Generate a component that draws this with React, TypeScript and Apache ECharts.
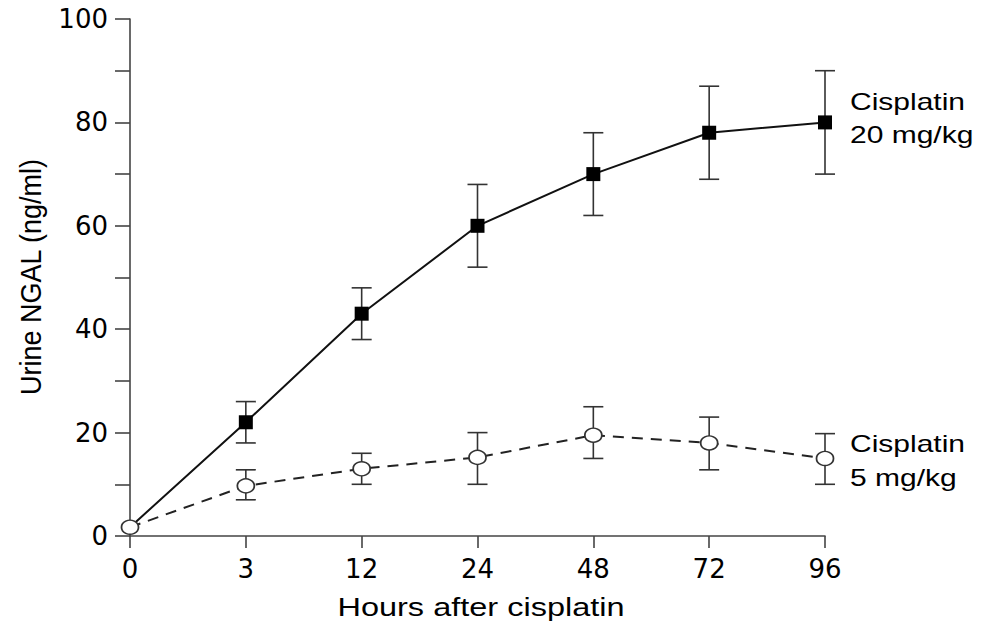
import React, { useEffect, useRef } from "react";
import * as echarts from "echarts";

const hours = ["0", "3", "12", "24", "48", "72", "96"];
const dose20 = [1.7, 22, 43, 60, 70, 78, 80];
const dose20Low = [null, 18, 38, 52, 62, 69, 70];
const dose20High = [null, 26, 48, 68, 78, 87, 90];
const dose5 = [1.7, 9.7, 13, 15.2, 19.5, 18, 15];
const dose5Low = [null, 7, 10, 10, 15, 12.8, 10];
const dose5High = [null, 12.8, 16, 20, 25, 23, 19.8];
const yAxisTitle = "Urine NGAL (ng/ml)";
const xAxisTitle = "Hours after cisplatin";
const label20 = ["Cisplatin", "20 mg/kg"];
const label5 = ["Cisplatin", "5 mg/kg"];

const SANS = "'Liberation Sans', Arial, Helvetica, sans-serif";
const TICKFONT = "'DejaVu Sans', 'Liberation Sans', sans-serif";
const STRETCH = 1.25;

function errData(lo: (number | null)[], hi: (number | null)[]) {
  const out: number[][] = [];
  lo.forEach((l, i) => {
    const h = hi[i];
    if (l != null && h != null) out.push([i, l, h]);
  });
  return out;
}

function errSeries(data: number[][]) {
  return {
    type: "custom",
    z: 1,
    silent: true,
    data,
    encode: { x: 0, y: [1, 2] },
    renderItem: (_p: any, api: any) => {
      const x = api.value(0);
      const p1 = api.coord([x, api.value(1)]);
      const p2 = api.coord([x, api.value(2)]);
      const w = 10;
      const style = { stroke: "#333", lineWidth: 1.6 };
      return {
        type: "group",
        children: [
          { type: "line", shape: { x1: p1[0], y1: p1[1], x2: p2[0], y2: p2[1] }, style },
          { type: "line", shape: { x1: p1[0] - w, y1: p1[1], x2: p1[0] + w, y2: p1[1] }, style },
          { type: "line", shape: { x1: p2[0] - w, y1: p2[1], x2: p2[0] + w, y2: p2[1] }, style },
        ],
      };
    },
  };
}

function labelText(text: string, x: number, y: number) {
  return {
    type: "text",
    x,
    y,
    scaleX: STRETCH,
    style: {
      text,
      fontSize: 24,
      fontFamily: SANS,
      fill: "#000",
      align: "left",
      verticalAlign: "middle",
    },
  };
}

export default function App() {
  const ref = useRef<HTMLDivElement>(null);
  useEffect(() => {
    if (!ref.current) return;
    const chart = echarts.init(ref.current, undefined, { renderer: "svg" });
    chart.setOption({
      animation: false,
      backgroundColor: "#ffffff",
      grid: { left: 130, right: 157, top: 19, bottom: 87, containLabel: false },
      xAxis: {
        type: "category",
        data: hours,
        boundaryGap: false,
        axisLine: { lineStyle: { color: "#444", width: 1.6 } },
        axisTick: { show: true, length: 12, alignWithLabel: true, lineStyle: { color: "#444", width: 1.6 } },
        axisLabel: { color: "#000", fontSize: 26, fontFamily: TICKFONT, margin: 20 },
        splitLine: { show: false },
      },
      yAxis: {
        type: "value",
        min: 0,
        max: 100,
        interval: 10,
        axisLine: { show: true, lineStyle: { color: "#444", width: 1.6 } },
        axisTick: { show: true, length: 15, lineStyle: { color: "#444", width: 1.6 } },
        axisLabel: {
          color: "#000",
          fontSize: 26,
          fontFamily: TICKFONT,
          margin: 22,
          formatter: (v: number) => (v % 20 === 0 ? String(v) : ""),
        },
        splitLine: { show: false },
      },
      series: [
        errSeries(errData(dose20Low, dose20High)),
        errSeries(errData(dose5Low, dose5High)),
        {
          type: "line",
          name: "Cisplatin 20 mg/kg",
          z: 3,
          data: dose20.map((v, i) => (i === 0 ? { value: v, symbol: "none" } : v)),
          symbol: "rect",
          symbolSize: 14,
          itemStyle: { color: "#000" },
          lineStyle: { color: "#111", width: 2 },
        },
        {
          type: "line",
          name: "Cisplatin 5 mg/kg",
          z: 4,
          data: dose5,
          symbol: "circle",
          symbolSize: [17, 14],
          showAllSymbol: true,
          itemStyle: { color: "#fff", borderColor: "#333", borderWidth: 1.6 },
          lineStyle: { color: "#222", width: 2, type: [11, 8] },
        },
      ],
      graphic: [
        {
          type: "text",
          x: 31,
          y: 277,
          rotation: Math.PI / 2,
          scaleY: 1.1,
          style: {
            text: yAxisTitle,
            fontSize: 27,
            fontFamily: SANS,
            fill: "#000",
            align: "center",
            verticalAlign: "middle",
          },
        },
        {
          type: "text",
          x: 481,
          y: 607,
          scaleX: 1.3,
          style: {
            text: xAxisTitle,
            fontSize: 25,
            fontFamily: SANS,
            fill: "#000",
            align: "center",
            verticalAlign: "middle",
          },
        },
        labelText(label20[0], 850, 102),
        labelText(label20[1], 850, 135),
        labelText(label5[0], 850, 444),
        labelText(label5[1], 850, 478),
      ],
    });
    return () => chart.dispose();
  }, []);
  return (
    <div
      ref={ref}
      style={{ position: "absolute", left: 0, top: 0, width: 982, height: 623, background: "#fff" }}
    />
  );
}
